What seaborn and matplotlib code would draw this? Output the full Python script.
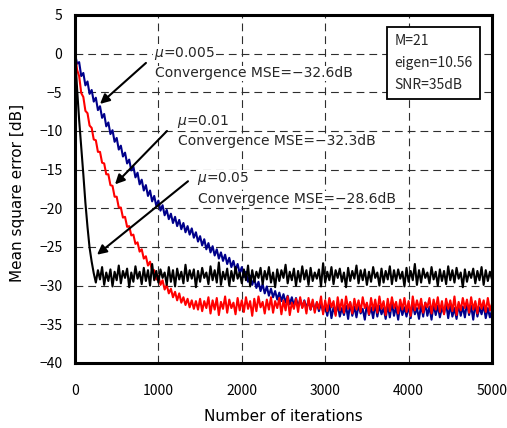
import numpy as np
import pandas as pd
import matplotlib
matplotlib.use("Agg")
import matplotlib.pyplot as plt
import seaborn as sns

# Iteration index of every stored sample (one sample per 25 iterations)
iterations = np.arange(0, 5001, 25)

# Learning curves (MSE in dB) for three step sizes
mse_mu_0005 = [
    0.0, -1.3, -1.1, -2.9, -2.5, -4.1, -3.6, -5.2, -4.7, -6.2,
    -5.7, -7.3, -6.8, -8.3, -7.8, -9.4, -8.9, -10.4, -9.9, -11.4,
    -10.9, -12.4, -11.9, -13.3, -12.8, -14.2, -13.7, -15.1, -14.6, -16.0,
    -15.4, -16.9, -16.3, -17.7, -17.0, -18.4, -17.7, -19.1, -18.4, -19.7,
    -19.0, -20.3, -19.6, -20.9, -20.2, -21.4, -20.7, -21.9, -21.1, -22.3,
    -21.5, -22.7, -21.9, -23.1, -22.3, -23.4, -22.6, -23.8, -23.1, -24.3,
    -23.6, -24.8, -24.0, -25.3, -24.5, -25.7, -24.9, -26.1, -25.3, -26.5,
    -25.7, -26.8, -26.0, -27.2, -26.4, -27.6, -26.8, -28.0, -27.2, -28.4,
    -27.6, -28.9, -28.2, -29.5, -28.7, -29.9, -29.1, -30.3, -29.5, -30.7,
    -29.8, -31.0, -30.1, -31.3, -30.4, -31.5, -30.7, -31.8, -30.9, -32.0,
    -31.1, -32.2, -31.3, -32.4, -31.5, -32.6, -31.6, -32.7, -31.8, -32.8,
    -31.9, -32.9, -32.0, -33.1, -32.1, -33.2, -32.2, -33.3, -32.3, -33.4,
    -32.5, -33.9, -32.3, -34.2, -32.8, -33.7, -32.4, -34.0, -32.9, -33.8,
    -32.6, -34.3, -32.2, -33.9, -32.7, -34.1, -32.5, -33.6, -33.0, -34.4,
    -32.4, -33.8, -32.8, -34.2, -32.3, -34.0, -32.6, -33.7, -32.9, -34.3,
    -32.5, -34.1, -32.2, -33.9, -32.7, -34.4, -32.4, -33.8, -32.8, -34.0,
    -32.6, -34.2, -32.3, -33.7, -32.9, -34.3, -32.5, -34.0, -32.2, -33.9,
    -32.7, -34.4, -32.4, -33.8, -32.6, -34.1, -32.8, -33.6, -32.3, -34.2,
    -32.5, -34.0, -32.9, -34.3, -32.4, -33.9, -32.7, -34.1, -32.2, -33.8,
    -32.6, -34.4, -32.3, -34.0, -32.8, -33.7, -32.5, -34.2, -32.9, -34.1,
    -33.2,
]

mse_mu_001 = [
    0.0, -2.1, -2.9, -5.1, -5.6, -7.4, -7.7, -9.3, -9.6, -11.1,
    -11.2, -12.7, -12.7, -14.1, -14.2, -15.6, -15.6, -17.0, -17.1, -18.5,
    -18.5, -19.9, -19.9, -21.2, -21.1, -22.4, -22.3, -23.5, -23.4, -24.6,
    -24.4, -25.6, -25.3, -26.5, -26.2, -27.4, -26.9, -28.1, -28.0, -29.2,
    -28.7, -29.9, -29.3, -30.5, -29.9, -31.0, -30.4, -31.5, -30.8, -31.9,
    -31.0, -32.2, -31.5, -32.5, -31.7, -32.8, -31.9, -33.0, -32.0, -33.1,
    -31.7, -33.3, -32.0, -32.9, -31.5, -33.6, -31.9, -33.1, -31.6, -33.8,
    -32.1, -33.0, -31.4, -33.5, -31.8, -32.9, -32.2, -33.7, -31.6, -33.2,
    -31.9, -33.4, -31.5, -33.0, -32.0, -33.9, -31.7, -33.3, -31.4, -32.8,
    -32.1, -33.6, -31.8, -33.1, -31.5, -33.5, -32.0, -32.9, -31.6, -33.7,
    -31.9, -33.2, -31.4, -33.8, -32.2, -33.0, -31.7, -33.4, -31.5, -32.9,
    -32.0, -33.6, -31.6, -33.1, -31.8, -33.5, -32.1, -33.0, -31.4, -33.7,
    -31.9, -33.3, -31.6, -32.8, -32.0, -33.9, -31.5, -33.2, -31.8, -33.5,
    -31.4, -33.0, -32.1, -33.6, -31.7, -33.1, -31.9, -33.4, -31.5, -32.9,
    -32.2, -33.7, -31.6, -33.2, -31.8, -33.5, -31.4, -33.0, -32.0, -33.8,
    -31.7, -33.3, -31.5, -32.9, -32.1, -33.6, -31.8, -33.1, -31.6, -33.4,
    -32.0, -33.9, -31.4, -33.2, -31.9, -33.0, -31.7, -33.5, -32.2, -32.8,
    -31.6, -33.6, -31.8, -33.1, -31.5, -33.4, -32.0, -33.7, -31.7, -33.0,
    -31.9, -33.3, -31.4, -33.8, -32.1, -33.2, -31.6, -32.9, -31.8, -33.5,
    -31.5, -33.1, -32.0, -33.6, -31.7, -33.0, -31.9, -33.4, -31.6, -33.2,
    -32.3,
]

mse_mu_005 = [
    0.0, -4.5, -8.6, -12.1, -15.6, -19.3, -22.4, -25.1, -26.9, -28.4,
    -29.6, -28.0, -29.2, -27.6, -29.9, -28.3, -29.4, -27.9, -30.1, -28.2,
    -29.3, -27.4, -29.7, -28.1, -29.0, -27.8, -30.2, -28.3, -29.5, -27.5,
    -29.1, -28.2, -29.8, -27.7, -29.4, -28.0, -30.0, -27.2, -29.3, -28.1,
    -29.6, -27.9, -29.0, -28.3, -29.9, -27.6, -29.5, -28.0, -30.1, -27.8,
    -29.2, -28.2, -29.7, -27.3, -29.4, -28.0, -29.1, -27.9, -30.2, -28.1,
    -29.5, -27.7, -29.0, -28.3, -29.8, -27.5, -29.3, -28.0, -29.6, -27.0,
    -29.9, -28.2, -29.2, -27.8, -30.0, -28.1, -29.4, -27.6, -29.1, -28.3,
    -29.7, -27.9, -29.3, -27.4, -30.1, -28.0, -29.5, -28.2, -29.0, -27.7,
    -29.8, -28.1, -29.2, -27.6, -29.6, -28.3, -30.2, -27.9, -29.4, -28.0,
    -29.0, -27.3, -29.7, -28.2, -29.3, -27.8, -30.0, -28.1, -29.5, -27.5,
    -29.2, -28.0, -29.9, -27.7, -29.4, -28.3, -29.1, -27.9, -30.1, -27.1,
    -29.6, -28.2, -29.3, -27.6, -29.8, -28.0, -29.0, -27.8, -29.5, -28.3,
    -30.2, -27.7, -29.4, -28.1, -29.1, -27.4, -29.7, -28.0, -29.3, -27.9,
    -29.9, -28.2, -29.5, -27.6, -29.0, -28.3, -30.0, -27.8, -29.6, -28.1,
    -29.2, -27.5, -29.8, -28.0, -29.4, -27.9, -29.1, -28.2, -30.1, -27.7,
    -29.5, -28.1, -29.3, -27.2, -29.9, -28.0, -29.6, -27.8, -29.0, -28.3,
    -29.7, -27.6, -29.2, -28.2, -30.0, -27.9, -29.4, -28.1, -29.8, -27.5,
    -29.3, -28.0, -29.6, -27.7, -29.1, -28.3, -30.2, -27.9, -29.5, -28.2,
    -29.0, -27.8, -29.7, -28.1, -29.3, -27.6, -29.9, -28.0, -29.4, -28.2,
    -29.2,
]

step_labels = ["0.005", "0.01", "0.05"]
converged_mse = [-32.6, -32.3, -28.6]
curve_colors = ["#00008B", "#FF0000", "#000000"]

x_ticks = [0, 1000, 2000, 3000, 4000, 5000]
y_ticks = [-40, -35, -30, -25, -20, -15, -10, -5, 0, 5]

info_lines = ["M=21", "eigen=10.56", "SNR=35dB"]

df = pd.concat(
    [
        pd.DataFrame({"iteration": iterations, "mse": vals, "mu": lab})
        for vals, lab in zip([mse_mu_0005, mse_mu_001, mse_mu_005], step_labels)
    ],
    ignore_index=True,
)

sns.set_theme(style="white")
plt.rcParams["font.family"] = ["Noto Sans CJK JP", "DejaVu Sans"]
plt.rcParams["axes.unicode_minus"] = True

fig = plt.figure(figsize=(5.07, 4.28), dpi=100)
ax = fig.add_axes([0.1479, 0.1519, 0.8225, 0.8131])

sns.lineplot(
    data=df, x="iteration", y="mse", hue="mu", hue_order=step_labels,
    palette=dict(zip(step_labels, curve_colors)), estimator=None, sort=False,
    linewidth=1.5, legend=False, ax=ax,
)

ax.set_xlim(0, 5000)
ax.set_ylim(-40, 5)
ax.set_xticks(x_ticks)
ax.set_yticks(y_ticks)
ax.tick_params(axis="both", length=0, labelsize=10, colors="black")
ax.tick_params(axis="x", pad=15)
ax.tick_params(axis="y", pad=9)

ax.grid(True, linestyle=(0, (7, 4.5)), color="#2e2e2e", linewidth=0.8)
for sp in ax.spines.values():
    sp.set_visible(True)
    sp.set_color("black")
    sp.set_linewidth(2.2)
    sp.set_zorder(5)

label_font = dict(family="DejaVu Sans", fontsize=11, color="black")
ax.set_xlabel("Number of iterations", **label_font)
ax.set_ylabel("Mean square error [dB]", **label_font)
ax.xaxis.label.set_va("center")
ax.yaxis.label.set_va("center")
ax.xaxis.set_label_coords(0.5, -0.155)
ax.yaxis.set_label_coords(-0.137, 0.49)

# Step-size annotations with arrows pointing at each curve
text_pos = [(947, 0.0), (1223, -8.8), (1463, -16.2)]
arrow_tail = [(851, -1.2), (1103, -10.0), (1355, -16.5)]
arrow_head = [(300, -6.5), (480, -16.9), (264, -26.0)]
box = dict(facecolor="white", edgecolor="none", pad=0.5)
for (tx, ty), lab, mse, tail, head in zip(text_pos, step_labels, converged_mse,
                                          arrow_tail, arrow_head):
    ax.text(tx, ty, r"$\mu$=" + lab, fontsize=10, family="DejaVu Sans",
            ha="left", va="center", bbox=box, zorder=6)
    ax.text(tx + 10, ty - 2.55, f"Convergence MSE=\u2212{abs(mse):.1f}dB",
            fontsize=10, family="DejaVu Sans", ha="left", va="center",
            bbox=box, zorder=6)
    ax.annotate("", xy=head, xytext=tail,
                arrowprops=dict(arrowstyle="-|>", color="black", lw=1.5,
                                mutation_scale=14, shrinkA=0, shrinkB=0),
                zorder=7)

ax.text(3830, 2.5, "\n".join(info_lines), fontsize=10, ha="left", va="top",
        linespacing=1.7,
        bbox=dict(boxstyle="square,pad=0.55", facecolor="white",
                  edgecolor="black", linewidth=1.3),
        zorder=6)

fig.savefig("out.png", dpi=100)
